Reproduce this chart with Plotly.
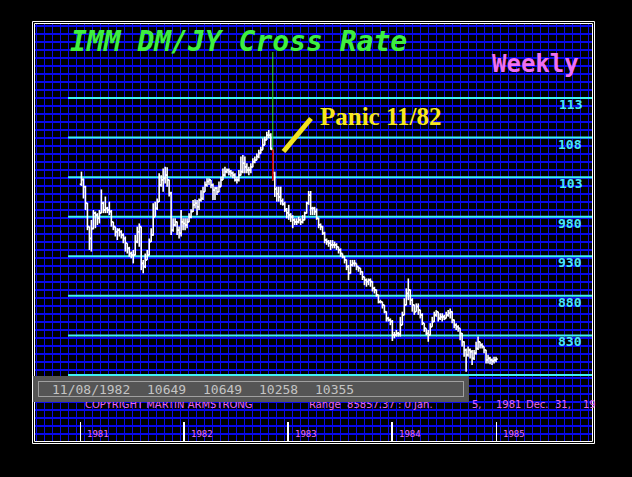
import plotly.graph_objects as go
import pandas as pd
from datetime import datetime, timedelta

# ---------------- data (weekly OHLC, IMM DM/JY cross) ----------------
first_week = "1981-01-05"

opens = [
    10210, 10270, 10180, 9970, 9675, 9525, 9650, 9845, 9820, 9780,
    9845, 9970, 9885, 9905, 9885, 9865, 9735, 9675, 9610, 9630,
    9610, 9570, 9525, 9465, 9400, 9335, 9315, 9315, 9485, 9610,
    9675, 9210, 9170, 9255, 9315, 9485, 9570, 9800, 9905, 9990,
    10200, 10265, 10285, 10325, 10265, 10095, 9630, 9695, 9735, 9630,
    9590, 9735,
    9715, 9695, 9735, 9800, 9865, 9950, 9970, 9925, 10010, 10030,
    10115, 10200, 10245, 10265, 10200, 10135, 10160, 10115, 10180, 10265,
    10325, 10370, 10390, 10370, 10350, 10325, 10265, 10265, 10325, 10370,
    10475, 10430, 10390, 10390, 10430, 10495, 10515, 10560, 10600, 10645,
    10705, 10770, 10830, 10830, 10649, 10355, 10150, 10090, 10050, 10000,
    9960, 9890,
    9850, 9820, 9800, 9760, 9735, 9735, 9760, 9735, 9760, 9845,
    9970, 10075, 9905, 9905, 9865, 9780, 9695, 9675, 9590, 9505,
    9485, 9465, 9445, 9445, 9445, 9420, 9380, 9335, 9295, 9255,
    9170, 9085, 9190, 9210, 9210, 9170, 9150, 9105, 9040, 9000,
    8980, 9000, 8980, 8895, 8875, 8810, 8725, 8725, 8685, 8600,
    8515, 8495,
    8475, 8305, 8305, 8325, 8315, 8430, 8560, 8685, 8830, 8875,
    8745, 8685, 8600, 8665, 8620, 8560, 8455, 8390, 8325, 8305,
    8410, 8475, 8560, 8600, 8515, 8535, 8535, 8515, 8560, 8580,
    8600, 8495, 8430, 8410, 8390, 8325, 8220, 8115, 8055, 8115,
    8095, 8010, 8075, 8135, 8220, 8180, 8160, 8115, 7990, 8010,
    7990, 7975, 7990,
]

highs = [
    10370, 10285, 10190, 9975, 9675, 9760, 9885, 9865, 9845, 9885,
    10145, 9990, 10055, 9925, 9990, 9885, 9735, 9675, 9655, 9655,
    9630, 9590, 9550, 9465, 9420, 9360, 9380, 9570, 9675, 9715,
    9675, 9255, 9335, 9380, 9525, 9655, 9970, 9990, 10030, 10350,
    10325, 10410, 10430, 10425, 10270, 10115, 9780, 9780, 9740, 9675,
    9885, 9780,
    9780, 9780, 9845, 9895, 10010, 10020, 10010, 10030, 10135, 10180,
    10245, 10285, 10285, 10265, 10220, 10180, 10180, 10245, 10305, 10410,
    10430, 10410, 10410, 10390, 10370, 10350, 10305, 10390, 10560, 10580,
    10560, 10475, 10430, 10475, 10540, 10560, 10600, 10645, 10685, 10790,
    10810, 10875, 10895, 10855, 10649, 10370, 10180, 10180, 10180, 10030,
    9990, 9910,
    9950, 9845, 9820, 9780, 9780, 9800, 9780, 9820, 9865, 9990,
    10125, 10125, 9925, 9925, 9905, 9785, 9715, 9680, 9610, 9525,
    9505, 9505, 9505, 9485, 9465, 9420, 9400, 9335, 9300, 9260,
    9190, 9255, 9255, 9255, 9210, 9170, 9150, 9110, 9040, 9020,
    9020, 9020, 8985, 8915, 8880, 8815, 8750, 8725, 8685, 8605,
    8535, 8515,
    8495, 8345, 8370, 8345, 8535, 8600, 8770, 8895, 9020, 8880,
    8770, 8690, 8705, 8705, 8625, 8580, 8455, 8390, 8370, 8455,
    8535, 8600, 8620, 8600, 8580, 8580, 8560, 8600, 8620, 8640,
    8605, 8500, 8455, 8430, 8390, 8330, 8225, 8135, 8160, 8135,
    8115, 8115, 8220, 8285, 8220, 8200, 8160, 8120, 8055, 8030,
    8010, 8030, 8030,
]

lows = [
    10190, 10030, 9885, 9630, 9380, 9360, 9640, 9655, 9695, 9715,
    9845, 9845, 9845, 9845, 9820, 9675, 9630, 9550, 9505, 9550,
    9525, 9465, 9360, 9335, 9295, 9275, 9210, 9310, 9465, 9420,
    9125, 9085, 9150, 9255, 9310, 9480, 9560, 9800, 9885, 9985,
    10180, 10115, 10220, 10180, 10055, 9570, 9610, 9675, 9570, 9525,
    9550, 9630,
    9630, 9655, 9730, 9780, 9860, 9905, 9820, 9885, 9990, 10010,
    10115, 10180, 10200, 10160, 10010, 10010, 10075, 10110, 10180, 10265,
    10305, 10350, 10325, 10305, 10285, 10245, 10220, 10245, 10320, 10350,
    10350, 10350, 10325, 10350, 10425, 10475, 10515, 10540, 10600, 10645,
    10705, 10770, 10790, 10645, 10258, 10050, 9990, 9990, 9950, 9940,
    9860, 9780,
    9760, 9735, 9655, 9695, 9695, 9715, 9695, 9715, 9755, 9840,
    9950, 9820, 9820, 9820, 9760, 9655, 9630, 9570, 9465, 9445,
    9420, 9380, 9400, 9400, 9380, 9335, 9295, 9275, 9210, 9125,
    9000, 9080, 9170, 9170, 9125, 9105, 9065, 9000, 8935, 8915,
    8935, 8915, 8855, 8830, 8790, 8705, 8705, 8640, 8580, 8475,
    8475, 8430,
    8230, 8265, 8285, 8285, 8285, 8430, 8555, 8680, 8745, 8685,
    8600, 8560, 8600, 8560, 8515, 8430, 8345, 8305, 8220, 8300,
    8410, 8470, 8535, 8475, 8495, 8475, 8495, 8515, 8535, 8515,
    8455, 8390, 8370, 8345, 8240, 8160, 8030, 7840, 8030, 8010,
    7925, 7990, 8055, 8115, 8135, 8135, 8075, 7945, 7945, 7935,
    7925, 7945, 7960,
]

closes = [
    10270, 10180, 9970, 9675, 9525, 9650, 9845, 9820, 9780, 9845,
    9970, 9885, 9905, 9885, 9865, 9735, 9675, 9610, 9630, 9610,
    9570, 9525, 9465, 9400, 9335, 9315, 9315, 9485, 9610, 9675,
    9210, 9170, 9255, 9315, 9485, 9570, 9800, 9905, 9990, 10200,
    10265, 10285, 10325, 10265, 10095, 9630, 9695, 9735, 9630, 9590,
    9735, 9715,
    9695, 9735, 9800, 9865, 9950, 9970, 9925, 10010, 10030, 10115,
    10200, 10245, 10265, 10200, 10135, 10160, 10115, 10180, 10265, 10325,
    10370, 10390, 10370, 10350, 10325, 10265, 10265, 10325, 10370, 10475,
    10430, 10390, 10390, 10430, 10495, 10515, 10560, 10600, 10645, 10705,
    10770, 10830, 10830, 10665, 10355, 10150, 10090, 10050, 10000, 9960,
    9890, 9850,
    9820, 9800, 9760, 9735, 9735, 9760, 9735, 9760, 9845, 9970,
    10075, 9905, 9905, 9865, 9780, 9695, 9675, 9590, 9505, 9485,
    9465, 9445, 9445, 9445, 9420, 9380, 9335, 9295, 9255, 9170,
    9085, 9190, 9210, 9210, 9170, 9150, 9105, 9040, 9000, 8980,
    9000, 8980, 8895, 8875, 8810, 8725, 8725, 8685, 8600, 8515,
    8495, 8475,
    8305, 8305, 8325, 8315, 8430, 8560, 8685, 8830, 8875, 8745,
    8685, 8600, 8665, 8620, 8560, 8455, 8390, 8325, 8305, 8410,
    8475, 8560, 8600, 8515, 8535, 8535, 8515, 8560, 8580, 8600,
    8495, 8430, 8410, 8390, 8325, 8220, 8115, 8055, 8115, 8095,
    8010, 8075, 8135, 8220, 8180, 8160, 8115, 7990, 8010, 7990,
    7975, 7990, 8000,
]

level_values = [11300, 10800, 10300, 9800, 9300, 8800, 8300, 7800]
level_labels = ["113", "108", "103", "980", "930", "880", "830", ""]
year_ticks = ["1981-01-01", "1982-01-01", "1983-01-01", "1984-01-01", "1985-01-01"]
year_labels = ["1981", "1982", "1983", "1984", "1985"]
cursor_index = 96
title_text = "IMM DM/JY Cross Rate"
period_text = "Weekly"
note_text = "Panic 11/82"
copyright_parts = [("COPYRIGHT MARTIN ARMSTRONG", 83), ("Range  85857.37 : 0 Jan.", 307),
                   ("5,", 470), ("1981", 494), ("Dec.", 524), ("31,", 553), ("19", 581)]

weeks = pd.date_range(first_week, periods=len(closes), freq="7D")

# ---------------- layout helpers (pixel calibration) ----------------
W, H = 632, 477
def px(x):
    return x / W
def py(y):
    return 1 - y / H

X_ANCHOR_PX = 80.3
X_ANCHOR_DATE = datetime(1981, 1, 1)
PX_PER_DAY = 104 / 365.25
def x_date(xp):
    return X_ANCHOR_DATE + timedelta(days=(xp - X_ANCHOR_PX) / PX_PER_DAY)

Y_ANCHOR_PX = 98
Y_ANCHOR_VAL = 11300
PX_PER_UNIT = (375 - 98) / 3500
def y_val(yp):
    return Y_ANCHOR_VAL + (Y_ANCHOR_PX - yp) / PX_PER_UNIT

PL, PR, PT, PB = 35, 592, 24, 441

BLUE = "#0808e8"
CYAN = "#3ef2f2"
MAGENTA = "#ee70ee"

# ---------------- traces ----------------
tick = timedelta(days=6)
bx, by = [], []
for d, o, h, l, c in zip(weeks, opens, highs, lows, closes):
    d = d.to_pydatetime()
    bx += [d, d, None, d - tick, d, None, d, d + tick, None]
    by += [l, h, None, o, o, None, c, c, None]

cx, cy = [], []
for v in level_values:
    cx += [x_date(68), x_date(PR), None]
    cy += [v, v, None]

cur_d = weeks[cursor_index].to_pydatetime()

fig = go.Figure()
fig.add_trace(go.Scatter(x=[PL, PR], y=[PT, PB], xaxis="x2", yaxis="y2", mode="markers",
                         marker=dict(opacity=0), hoverinfo="skip", showlegend=False))
fig.add_trace(go.Scatter(x=cx, y=cy, mode="lines", line=dict(color=CYAN, width=2),
                         hoverinfo="skip", showlegend=False))
fig.add_trace(go.Scatter(x=bx, y=by, mode="lines", line=dict(color="white", width=1.6),
                         hoverinfo="skip", showlegend=False))
fig.add_trace(go.Scatter(x=[cur_d, cur_d], y=[y_val(52), highs[cursor_index]], mode="lines",
                         line=dict(color="#30e030", width=1), hoverinfo="skip", showlegend=False))
fig.add_trace(go.Scatter(x=[cur_d, cur_d], y=[highs[cursor_index], lows[cursor_index]], mode="lines",
                         line=dict(color="#d00000", width=1.6), hoverinfo="skip", showlegend=False))

# ---------------- annotations ----------------
ann = []
ann.append(dict(text=title_text, x=px(68), y=py(41), xref="paper", yref="paper",
                xanchor="left", yanchor="middle", showarrow=False,
                font=dict(family="DejaVu Sans Mono", size=28, color="#3ef03e",
                          weight="bold", style="italic")))
ann.append(dict(text=period_text, x=px(581), y=py(64), xref="paper", yref="paper",
                xanchor="right", yanchor="middle", showarrow=False,
                font=dict(family="DejaVu Sans Mono", size=24, color="#f070f0", weight="bold")))
ann.append(dict(text=note_text, x=px(318), y=py(117), xref="paper", yref="paper",
                xanchor="left", yanchor="middle", showarrow=False,
                font=dict(family="Liberation Serif", size=25, color="#f8e81c", weight="bold")))
for v, lab in zip(level_values, level_labels):
    if lab:
        ann.append(dict(text=lab, x=px(584), y=v, xref="paper", yref="y",
                        xanchor="right", yanchor="top", yshift=3, showarrow=False,
                        font=dict(family="DejaVu Sans Mono", size=13, color="#48e6f4", weight="bold")))
for t, lab in zip(year_ticks, year_labels):
    ann.append(dict(text=lab, x=t, y=py(434), xref="x", yref="paper", xanchor="left",
                    yanchor="middle", xshift=5, showarrow=False,
                    font=dict(family="DejaVu Sans Mono", size=9, color=MAGENTA)))
for txt, xp in copyright_parts:
    ann.append(dict(text=txt, x=px(xp), y=py(404), xref="paper", yref="paper", xanchor="left",
                    yanchor="middle", showarrow=False,
                    font=dict(family="DejaVu Sans", size=10, color="#e868e8")))
# info box (covers the top of the copyright line)
ann.append(dict(text=" ", x=px(33), y=py(376), xref="paper", yref="paper", xanchor="left",
                yanchor="top", showarrow=False, width=436, height=26, bgcolor="#555555",
                borderpad=0, borderwidth=0, font=dict(size=1)))
ann.append(dict(text=" ", x=px(38), y=py(381), xref="paper", yref="paper", xanchor="left",
                yanchor="top", showarrow=False, width=424, height=14, bgcolor="#555555",
                bordercolor="#a0a0a0", borderwidth=1, borderpad=0, font=dict(size=1)))
info_fields = [weeks[cursor_index].strftime("%m/%d/%Y"), str(opens[cursor_index]),
               str(highs[cursor_index]), str(lows[cursor_index]), str(closes[cursor_index])]
for txt, xp in zip(info_fields, [50, 145, 201, 257, 313]):
    ann.append(dict(text=txt, x=px(xp), y=py(389), xref="paper", yref="paper", xanchor="left",
                    yanchor="middle", showarrow=False,
                    font=dict(family="DejaVu Sans Mono", size=13, color="#c4c4c4")))

# ---------------- shapes: frame + marker slash ----------------
shapes = [
    dict(type="rect", xref="paper", yref="paper", x0=px(32.5), x1=px(594.5), y0=py(443.5), y1=py(21.5),
         line=dict(color="white", width=1), layer="above"),
    dict(type="rect", xref="paper", yref="paper", x0=px(34.5), x1=px(592.5), y0=py(441.5), y1=py(23.5),
         line=dict(color="white", width=1), layer="above"),
    dict(type="line", xref="paper", yref="paper", x0=px(283.5), y0=py(151.5), x1=px(311), y1=py(118.5),
         line=dict(color="#f2e21e", width=5), layer="above"),
]

fig.update_layout(
    width=W, height=H, autosize=False,
    margin=dict(l=0, r=0, t=0, b=0, pad=0),
    paper_bgcolor="black", plot_bgcolor="black",
    showlegend=False, hovermode=False,
    xaxis=dict(domain=[px(PL), px(PR)], range=[x_date(PL), x_date(PR)], type="date",
               showgrid=False, zeroline=False, showline=False, tickvals=year_ticks,
               ticks="inside", ticklen=19, tickwidth=1.5, tickcolor="white",
               showticklabels=False, fixedrange=True),
    yaxis=dict(domain=[py(PB), py(PT)], range=[y_val(PB), y_val(PT)], showgrid=False,
               zeroline=False, showline=False, showticklabels=False, ticks="", fixedrange=True),
    xaxis2=dict(overlaying="x", range=[PL, PR], tick0=36.3, dtick=8, showgrid=True,
                gridcolor=BLUE, gridwidth=1.2, showticklabels=False, zeroline=False,
                ticks="", showline=False, side="top", fixedrange=True),
    yaxis2=dict(overlaying="y", range=[PB, PT], tick0=26, dtick=8, showgrid=True,
                gridcolor=BLUE, gridwidth=1.2, showticklabels=False, zeroline=False,
                ticks="", showline=False, side="right", fixedrange=True),
    annotations=ann,
    shapes=shapes,
)

fig.write_html(
    "out.html",
    config={"displayModeBar": False, "staticPlot": True},
    post_script="document.body.style.margin='0';document.body.style.background='black';",
)
